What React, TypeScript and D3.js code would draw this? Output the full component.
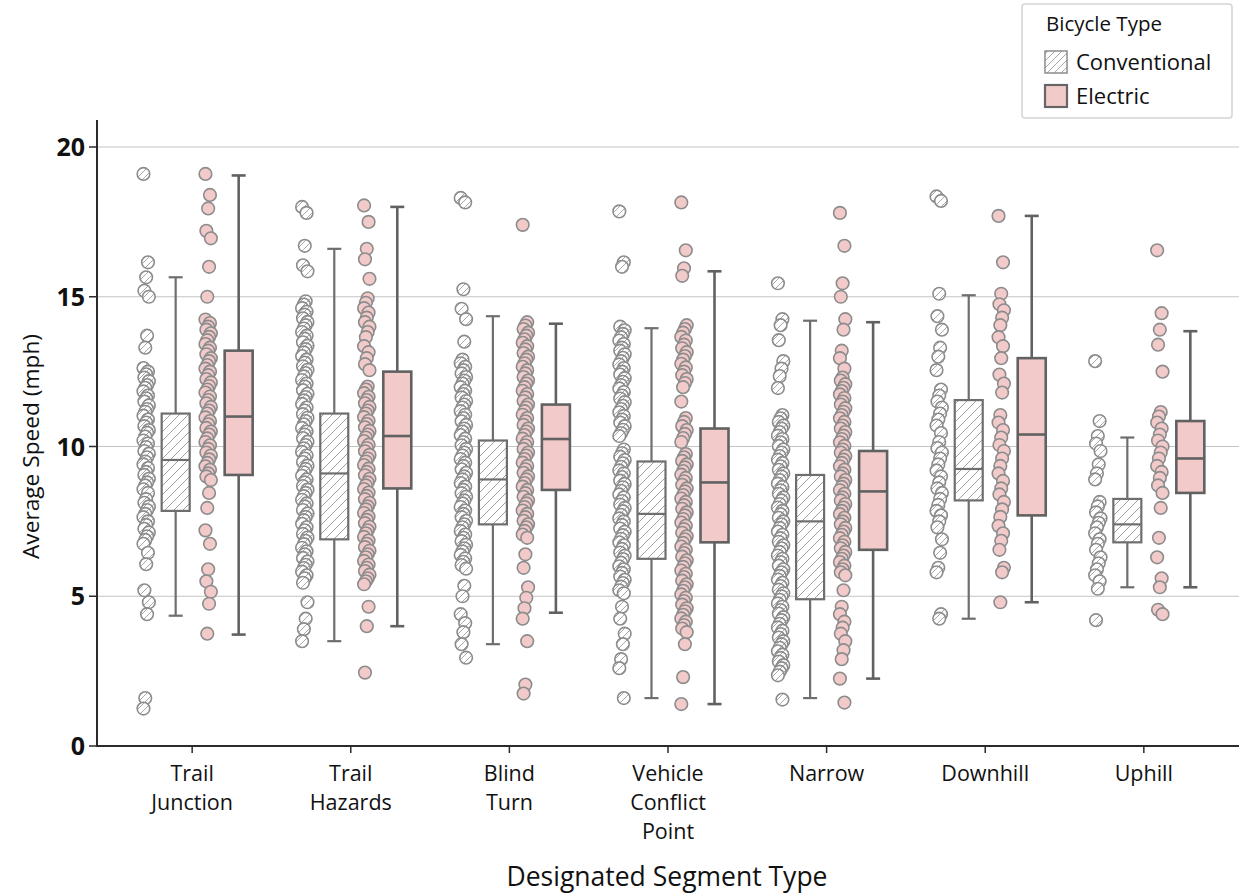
import * as d3 from "d3";

const categories = [
  "Trail Junction",
  "Trail Hazards",
  "Blind Turn",
  "Vehicle Conflict Point",
  "Narrow",
  "Downhill",
  "Uphill",
];

const seriesNames = ["Conventional", "Electric"];

// individual trip speeds (mph)
const conventionalSpeeds = [
  [19.1, 16.15, 15.65, 15.2, 15.0, 13.7, 13.3, 12.62, 12.5, 12.41, 12.3, 12.18, 12.05, 11.96, 11.84, 11.7, 11.61, 11.5, 11.37, 11.25, 11.16, 11.03, 10.9, 10.8, 10.68, 10.55, 10.46, 10.33, 10.2, 10.1, 9.98, 9.85, 9.76, 9.64, 9.5, 9.4, 9.28, 9.15, 9.05, 8.92, 8.8, 8.7, 8.57, 8.45, 8.24, 8.12, 8.0, 7.88, 7.75, 7.64, 7.5, 7.38, 7.25, 7.13, 7.0, 6.88, 6.75, 6.45, 6.07, 5.2, 4.8, 4.4, 1.6, 1.25],
  [18.0, 17.8, 16.7, 16.05, 15.85, 14.85, 14.74, 14.62, 14.5, 14.4, 14.28, 14.16, 14.05, 13.94, 13.82, 13.7, 13.6, 13.48, 13.36, 13.25, 13.14, 13.02, 12.9, 12.8, 12.68, 12.56, 12.45, 12.34, 12.22, 12.1, 12.0, 11.88, 11.76, 11.65, 11.54, 11.42, 11.3, 11.2, 11.08, 10.96, 10.85, 10.74, 10.62, 10.5, 10.4, 10.28, 10.16, 10.05, 9.94, 9.82, 9.7, 9.6, 9.48, 9.36, 9.25, 9.14, 9.02, 8.9, 8.8, 8.68, 8.56, 8.45, 8.34, 8.22, 8.1, 8.0, 7.88, 7.76, 7.65, 7.54, 7.42, 7.3, 7.2, 7.08, 6.96, 6.85, 6.74, 6.62, 6.5, 6.4, 6.28, 6.16, 6.05, 5.94, 5.82, 5.7, 5.6, 5.45, 4.8, 4.25, 3.9, 3.5],
  [18.3, 18.15, 15.25, 14.6, 14.25, 13.5, 12.9, 12.78, 12.66, 12.55, 12.44, 12.32, 12.2, 12.1, 11.98, 11.86, 11.75, 11.64, 11.52, 11.4, 11.3, 11.18, 11.06, 10.95, 10.84, 10.72, 10.6, 10.5, 10.38, 10.26, 10.15, 10.04, 9.92, 9.8, 9.7, 9.58, 9.46, 9.35, 9.24, 9.12, 9.0, 8.9, 8.78, 8.66, 8.55, 8.44, 8.32, 8.2, 8.1, 7.98, 7.86, 7.75, 7.64, 7.52, 7.4, 7.3, 7.18, 7.06, 6.95, 6.84, 6.72, 6.6, 6.5, 6.38, 6.26, 6.15, 6.04, 5.92, 5.35, 5.0, 4.4, 4.1, 3.8, 3.4, 2.95],
  [17.85, 16.15, 16.0, 14.0, 13.88, 13.76, 13.65, 13.54, 13.42, 13.3, 13.2, 13.08, 12.96, 12.85, 12.74, 12.62, 12.5, 12.4, 12.28, 12.16, 12.05, 11.94, 11.82, 11.7, 11.6, 11.48, 11.36, 11.25, 11.14, 11.02, 10.9, 10.8, 10.68, 10.56, 10.45, 10.35, 9.9, 9.78, 9.66, 9.55, 9.44, 9.32, 9.2, 9.1, 8.98, 8.86, 8.75, 8.64, 8.52, 8.4, 8.3, 8.18, 8.06, 7.95, 7.84, 7.72, 7.6, 7.5, 7.38, 7.26, 7.15, 7.04, 6.92, 6.8, 6.7, 6.58, 6.46, 6.35, 6.24, 6.12, 6.0, 5.9, 5.78, 5.66, 5.55, 5.44, 5.32, 5.2, 5.1, 4.65, 4.25, 3.75, 3.4, 2.9, 2.6, 1.6],
  [15.45, 14.25, 14.05, 13.55, 12.85, 12.6, 12.35, 11.95, 11.05, 10.94, 10.82, 10.7, 10.6, 10.48, 10.36, 10.25, 10.14, 10.02, 9.9, 9.8, 9.68, 9.56, 9.45, 9.34, 9.22, 9.1, 9.0, 8.88, 8.76, 8.65, 8.54, 8.42, 8.3, 8.2, 8.08, 7.96, 7.85, 7.74, 7.62, 7.5, 7.4, 7.28, 7.16, 7.05, 6.94, 6.82, 6.7, 6.6, 6.48, 6.36, 6.25, 6.14, 6.02, 5.9, 5.8, 5.68, 5.56, 5.45, 5.34, 5.22, 5.1, 5.0, 4.88, 4.76, 4.65, 4.54, 4.42, 4.3, 4.2, 4.08, 3.96, 3.85, 3.74, 3.62, 3.5, 3.4, 3.28, 3.16, 3.05, 2.94, 2.82, 2.7, 2.6, 2.48, 2.36, 1.55],
  [18.35, 18.2, 15.1, 14.35, 13.9, 13.3, 13.0, 12.55, 11.9, 11.7, 11.5, 11.3, 11.1, 10.9, 10.7, 10.45, 10.15, 9.95, 9.8, 9.6, 9.4, 9.2, 9.0, 8.8, 8.6, 8.45, 8.25, 8.05, 7.85, 7.7, 7.5, 7.3, 6.9, 6.45, 5.95, 5.8, 4.4, 4.25],
  [12.85, 10.85, 10.35, 10.1, 9.85, 9.4, 9.1, 8.9, 8.15, 8.0, 7.8, 7.6, 7.45, 7.3, 7.1, 6.9, 6.75, 6.55, 6.3, 6.1, 5.9, 5.7, 5.5, 5.25, 4.2],
];

const electricSpeeds = [
  [19.1, 18.4, 17.95, 17.2, 16.95, 16.0, 15.0, 14.24, 14.12, 14.0, 13.9, 13.78, 13.66, 13.55, 13.42, 13.3, 13.2, 13.08, 12.95, 12.85, 12.72, 12.6, 12.5, 12.38, 12.25, 12.14, 12.02, 11.9, 11.8, 11.67, 11.55, 11.44, 11.32, 11.2, 11.1, 10.97, 10.85, 10.74, 10.62, 10.5, 10.4, 10.27, 10.15, 10.04, 9.92, 9.8, 9.7, 9.57, 9.45, 9.34, 9.22, 9.1, 9.0, 8.88, 8.45, 7.95, 7.2, 6.75, 5.9, 5.5, 5.15, 4.75, 3.75],
  [18.05, 17.5, 16.6, 16.25, 15.6, 14.95, 14.8, 14.62, 14.47, 14.3, 14.15, 14.0, 13.82, 13.65, 13.35, 13.15, 12.95, 12.75, 12.55, 12.0, 11.9, 11.78, 11.66, 11.55, 11.44, 11.32, 11.2, 11.1, 10.98, 10.86, 10.75, 10.64, 10.52, 10.4, 10.3, 10.18, 10.06, 9.95, 9.84, 9.72, 9.6, 9.5, 9.38, 9.26, 9.15, 9.04, 8.92, 8.8, 8.7, 8.58, 8.46, 8.35, 8.24, 8.12, 8.0, 7.9, 7.78, 7.66, 7.55, 7.44, 7.32, 7.2, 7.1, 6.98, 6.86, 6.75, 6.64, 6.52, 6.4, 6.3, 6.18, 6.06, 5.95, 5.84, 5.72, 5.6, 5.5, 5.4, 4.65, 4.0, 2.45],
  [17.4, 14.15, 14.04, 13.92, 13.8, 13.7, 13.58, 13.46, 13.35, 13.24, 13.12, 13.0, 12.9, 12.78, 12.66, 12.55, 12.44, 12.32, 12.2, 12.1, 11.98, 11.86, 11.75, 11.64, 11.52, 11.4, 11.3, 11.18, 11.06, 10.95, 10.84, 10.72, 10.6, 10.5, 10.38, 10.26, 10.15, 10.04, 9.92, 9.8, 9.7, 9.58, 9.46, 9.35, 9.24, 9.12, 9.0, 8.9, 8.78, 8.66, 8.55, 8.44, 8.32, 8.2, 8.1, 7.98, 7.86, 7.75, 7.64, 7.52, 7.4, 7.3, 7.18, 7.06, 6.95, 6.4, 5.95, 5.3, 4.95, 4.6, 4.25, 3.5, 2.05, 1.75],
  [18.15, 16.55, 15.95, 15.7, 14.05, 13.92, 13.8, 13.66, 13.54, 13.4, 13.28, 13.15, 13.02, 12.9, 12.76, 12.64, 12.5, 12.38, 12.25, 12.12, 11.98, 11.5, 10.95, 10.82, 10.68, 10.55, 10.42, 10.28, 10.15, 9.75, 9.64, 9.52, 9.4, 9.3, 9.18, 9.06, 8.95, 8.84, 8.72, 8.6, 8.5, 8.38, 8.26, 8.15, 8.04, 7.92, 7.8, 7.7, 7.58, 7.46, 7.35, 7.24, 7.12, 7.0, 6.9, 6.78, 6.66, 6.55, 6.44, 6.32, 6.2, 6.1, 5.98, 5.86, 5.75, 5.64, 5.52, 5.4, 5.3, 5.18, 5.06, 4.95, 4.84, 4.72, 4.6, 4.5, 4.38, 4.26, 4.15, 4.04, 3.92, 3.8, 3.4, 2.3, 1.4],
  [17.8, 16.7, 15.45, 15.0, 14.25, 13.9, 13.2, 12.95, 12.6, 12.3, 12.2, 12.08, 11.96, 11.85, 11.74, 11.62, 11.5, 11.4, 11.28, 11.16, 11.05, 10.94, 10.82, 10.7, 10.6, 10.48, 10.36, 10.25, 10.14, 10.02, 9.9, 9.8, 9.68, 9.56, 9.45, 9.34, 9.22, 9.1, 9.0, 8.88, 8.76, 8.65, 8.54, 8.42, 8.3, 8.2, 8.08, 7.96, 7.85, 7.74, 7.62, 7.5, 7.4, 7.28, 7.16, 7.05, 6.94, 6.82, 6.7, 6.6, 6.48, 6.36, 6.25, 6.14, 6.02, 5.9, 5.8, 5.7, 5.2, 4.65, 4.4, 4.15, 3.95, 3.75, 3.5, 3.2, 2.9, 2.25, 1.45],
  [17.7, 16.15, 15.1, 14.75, 14.55, 14.3, 14.05, 13.65, 13.35, 12.95, 12.4, 12.1, 11.8, 11.05, 10.8, 10.55, 10.3, 10.05, 9.85, 9.6, 9.35, 9.1, 8.85, 8.6, 8.4, 8.15, 7.9, 7.65, 7.35, 7.1, 6.85, 6.55, 5.95, 5.8, 4.8],
  [16.55, 14.45, 13.9, 13.4, 12.5, 11.15, 11.0, 10.8, 10.6, 10.4, 10.2, 10.0, 9.8, 9.6, 9.35, 9.15, 8.95, 8.7, 8.45, 7.95, 6.95, 6.3, 5.6, 5.3, 4.55, 4.4],
];

// [lower whisker, Q1, median, Q3, upper whisker]
const conventionalBoxes = [
  [4.35, 7.85, 9.55, 11.1, 15.65],
  [3.5, 6.9, 9.1, 11.1, 16.6],
  [3.4, 7.4, 8.9, 10.2, 14.35],
  [1.6, 6.25, 7.75, 9.5, 13.95],
  [1.6, 4.9, 7.5, 9.05, 14.2],
  [4.25, 8.2, 9.25, 11.55, 15.05],
  [5.3, 6.8, 7.4, 8.25, 10.3],
];

const electricBoxes = [
  [3.72, 9.05, 11.0, 13.2, 19.05],
  [4.0, 8.6, 10.35, 12.5, 18.0],
  [4.45, 8.55, 10.25, 11.4, 14.1],
  [1.4, 6.8, 8.8, 10.6, 15.85],
  [2.25, 6.55, 8.5, 9.85, 14.15],
  [4.8, 7.7, 10.4, 12.95, 17.7],
  [5.3, 8.45, 9.6, 10.85, 13.85],
];

const yTicks = [0, 5, 10, 15, 20];

const width = 1239;
const height = 895;
const font = "'Open Sans', 'Noto Sans', sans-serif";
const pink = "#f2caca";

function App() {
  const x = d3.scalePoint().domain(categories).range([97, 1239]).padding(0.6);
  const y = d3.scaleLinear().domain([0, 20]).range([746, 147]);

  const pointOffset = [-46, 16];
  const boxOffset = [-16.5, 46.5];
  const boxW = 28;
  const capW = 14;

  const renderStrip = (vals: number[], cx: number, s: number) =>
    vals.map((v, i) => (
      <circle
        key={i}
        cx={cx + (((i * 5) % 7) - 3) * 0.9}
        cy={y(v)}
        r={6.3}
        fill={s === 0 ? "url(#hatch)" : pink}
        stroke="#8c8c8c"
        strokeWidth={1.6}
      />
    ));

  const renderBox = (b: number[], cx: number, s: number) => {
    const [lo, q1, med, q3, hi] = b;
    const stroke = s === 0 ? "#6e6e6e" : "#616161";
    const sw = s === 0 ? 2.2 : 2.6;
    return (
      <g>
        <line x1={cx} x2={cx} y1={y(hi)} y2={y(q3)} stroke={stroke} strokeWidth={sw} />
        <line x1={cx} x2={cx} y1={y(q1)} y2={y(lo)} stroke={stroke} strokeWidth={sw} />
        <line x1={cx - capW / 2} x2={cx + capW / 2} y1={y(hi)} y2={y(hi)} stroke={stroke} strokeWidth={sw} />
        <line x1={cx - capW / 2} x2={cx + capW / 2} y1={y(lo)} y2={y(lo)} stroke={stroke} strokeWidth={sw} />
        <rect
          x={cx - boxW / 2}
          y={y(q3)}
          width={boxW}
          height={y(q1) - y(q3)}
          fill={s === 0 ? "url(#hatchBox)" : pink}
          stroke={stroke}
          strokeWidth={sw}
        />
        <line x1={cx - boxW / 2} x2={cx + boxW / 2} y1={y(med)} y2={y(med)} stroke={stroke} strokeWidth={sw} />
      </g>
    );
  };

  return (
    <svg
      width={width}
      height={height}
      style={{ position: "absolute", left: 0, top: 0, background: "#fff" }}
      fontFamily={font}
    >
      <defs>
        <pattern id="hatch" patternUnits="userSpaceOnUse" width={7} height={7}>
          <rect width={7} height={7} fill="#fff" />
          <path d="M-1,1 l2,-2 M0,7 l7,-7 M6,8 l2,-2" stroke="#a8a8a8" strokeWidth={1} />
        </pattern>
        <pattern id="hatchBox" patternUnits="userSpaceOnUse" width={9} height={9}>
          <rect width={9} height={9} fill="#fff" />
          <path d="M-1,1 l2,-2 M0,9 l9,-9 M8,10 l2,-2" stroke="#a0a0a0" strokeWidth={1} />
        </pattern>
      </defs>

      {/* gridlines */}
      {yTicks
        .filter((t) => t > 0)
        .map((t) => (
          <line key={t} x1={97} x2={width} y1={y(t)} y2={y(t)} stroke="#c4c4c4" strokeWidth={1} />
        ))}

      {/* strips and boxes */}
      {categories.map((c, ci) => {
        const cx = x(c) as number;
        return (
          <g key={c}>
            {renderStrip(conventionalSpeeds[ci], cx + pointOffset[0], 0)}
            {renderStrip(electricSpeeds[ci], cx + pointOffset[1], 1)}
            {renderBox(conventionalBoxes[ci], cx + boxOffset[0], 0)}
            {renderBox(electricBoxes[ci], cx + boxOffset[1], 1)}
          </g>
        );
      })}

      {/* y axis */}
      <line x1={97} x2={97} y1={120} y2={747} stroke="#2b2b2b" strokeWidth={2} />
      {yTicks.map((t) => (
        <g key={t}>
          <line x1={89} x2={97} y1={y(t)} y2={y(t)} stroke="#2b2b2b" strokeWidth={1.5} />
          <text x={85} y={y(t)} dy="0.36em" textAnchor="end" fontSize={25} fontWeight="bold" fill="#111">
            {t}
          </text>
        </g>
      ))}
      <text
        transform={`translate(31,${y(10)}) rotate(-90)`}
        textAnchor="middle"
        dy="0.35em"
        fontSize={22.7}
        fill="#111"
      >
        Average Speed (mph)
      </text>

      {/* x axis */}
      <line x1={96} x2={width} y1={746} y2={746} stroke="#2b2b2b" strokeWidth={2} />
      {categories.map((c) => {
        const cx = x(c) as number;
        return (
          <g key={c}>
            <line x1={cx} x2={cx} y1={746} y2={753} stroke="#2b2b2b" strokeWidth={1.5} />
            <text x={cx} y={773} textAnchor="middle" fontSize={21.5} fill="#111">
              {c.split(" ").map((w, i) => (
                <tspan key={i} x={cx} dy={i === 0 ? "0.35em" : 29}>
                  {w}
                </tspan>
              ))}
            </text>
          </g>
        );
      })}
      <text x={667} y={877} textAnchor="middle" dy="0.35em" fontSize={26.5} fill="#111">
        Designated Segment Type
      </text>

      {/* legend */}
      <rect x={1022} y={4} width={210} height={114} rx={3} fill="#fff" stroke="#d4d4d4" strokeWidth={1.5} />
      <text x={1046} y={24} dy="0.35em" fontSize={20.5} fill="#111">
        Bicycle Type
      </text>
      {seriesNames.map((n, i) => (
        <g key={n}>
          <rect
            x={1045}
            y={51 + i * 34}
            width={22}
            height={22}
            fill={i === 0 ? "url(#hatch)" : pink}
            stroke={i === 0 ? "#8c8c8c" : "#666"}
            strokeWidth={i === 0 ? 1.5 : 2.2}
          />
          <text x={1076} y={62 + i * 34} dy="0.35em" fontSize={22} fill="#111">
            {n}
          </text>
        </g>
      ))}
    </svg>
  );
}

export default App;
